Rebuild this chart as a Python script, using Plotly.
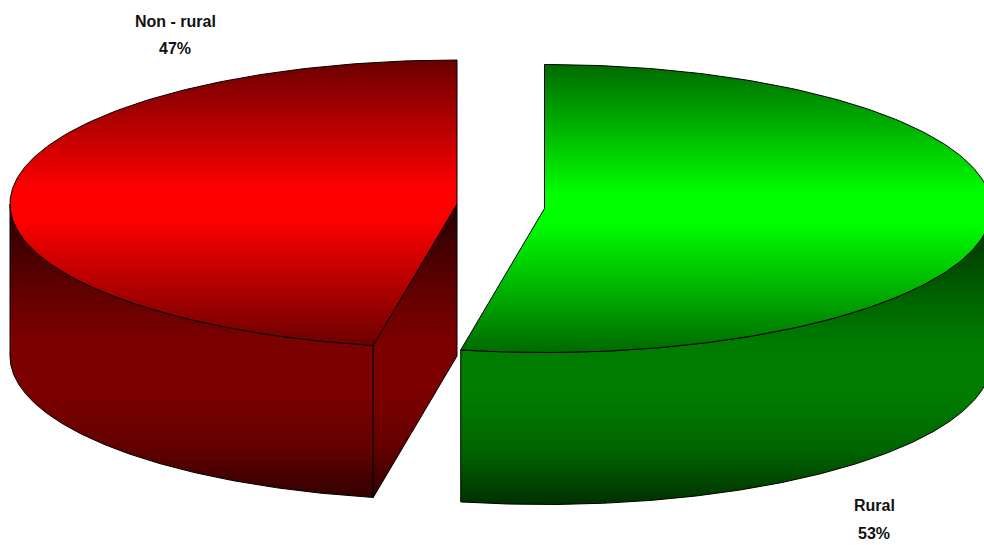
import numpy as np
import plotly.graph_objects as go

# share of population
labels = ["Rural", "Non - rural"]
shares = [53, 47]

# flat wedge geometry, in the same units as the picture
RX = 447
RY = 144
DEPTH = 152

rural_centre = (544.5, 208.5)
nonrural_centre = (457, 204)


def rim(centre, start, end, n=200):
    # angles run clockwise from twelve o'clock, as on the original chart
    t = np.radians(np.linspace(start, end, n))
    return centre[0] + RX * np.sin(t), centre[1] - RY * np.cos(t)


def top_gradient(dark, bright, start, stop):
    return dict(
        type="vertical",
        colorscale=[[0, dark], [0.45, bright], [0.55, bright], [1, dark]],
        start=start,
        stop=stop,
    )


def side_gradient(dark, mid, bright, start, stop):
    return dict(
        type="vertical",
        colorscale=[[0, dark], [0.3, mid], [0.45, bright], [0.62, bright], [0.8, mid], [1, dark]],
        start=start,
        stop=stop,
    )


def add_poly(fig, x, y, fill):
    fig.add_trace(go.Scatter(
        x=np.append(x, x[0]),
        y=np.append(y, y[0]),
        mode="lines",
        line=dict(color="black", width=1),
        fill="toself",
        fillcolor="rgba(0,0,0,0)",
        fillgradient=fill,
        hoverinfo="skip",
        showlegend=False,
    ))


split = 360 * shares[0] / sum(shares)

fig = go.Figure()

# Non-rural: rim, cut face, then the top
cx, cy = nonrural_centre
red_side = side_gradient("#280000", "#640000", "#7c0000", cy, cy + 2 * DEPTH)
x, y = rim(nonrural_centre, split, 270)
add_poly(fig, np.r_[x, x[::-1]], np.r_[y, y[::-1] + DEPTH], red_side)
ex, ey = x[0], y[0]
add_poly(fig, np.array([cx, ex, ex, cx]), np.array([cy, ey, ey + DEPTH, cy + DEPTH]), red_side)
x, y = rim(nonrural_centre, split, 360)
add_poly(fig, np.r_[cx, x], np.r_[cy, y], top_gradient("#6a0000", "#ff0000", cy - RY, cy + RY))

# Rural: rim, then the top
cx, cy = rural_centre
green_side = side_gradient("#002800", "#006400", "#007c00", cy, cy + 2 * DEPTH)
x, y = rim(rural_centre, 90, split)
add_poly(fig, np.r_[x, x[::-1]], np.r_[y, y[::-1] + DEPTH], green_side)
x, y = rim(rural_centre, 0, split)
add_poly(fig, np.r_[cx, x], np.r_[cy, y], top_gradient("#006a00", "#00ff00", cy - RY, cy + RY))

label_font = dict(family="Liberation Sans Narrow, Liberation Sans, sans-serif", size=16, color="#111111")
fig.add_annotation(x=874, y=505, text=f"<b>{labels[0]}</b>", showarrow=False, font=label_font)
fig.add_annotation(x=874, y=533, text=f"<b>{shares[0]}%</b>", showarrow=False, font=label_font)
fig.add_annotation(x=175, y=21, text=f"<b>{labels[1]}</b>", showarrow=False, font=label_font)
fig.add_annotation(x=175, y=48, text=f"<b>{shares[1]}%</b>", showarrow=False, font=label_font)

fig.update_xaxes(range=[0, 984], visible=False)
fig.update_yaxes(range=[545, 0], visible=False)
fig.update_layout(
    width=984,
    height=545,
    margin=dict(l=0, r=0, t=0, b=0),
    paper_bgcolor="white",
    plot_bgcolor="white",
)

# the page's default body margin would push the chart 8px off
fig.write_html(
    "out.html",
    config={"displayModeBar": False},
    post_script="document.body.style.margin='0';document.body.style.overflow='hidden';",
)
